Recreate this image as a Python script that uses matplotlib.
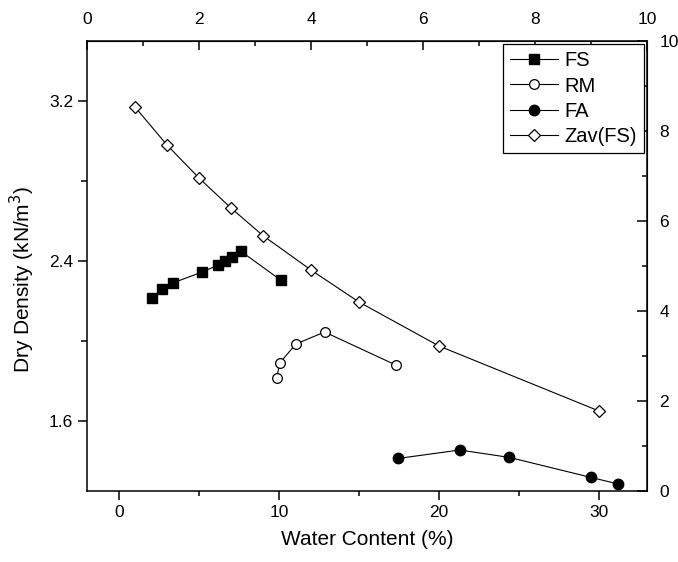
import numpy as np
import matplotlib
matplotlib.use("Agg")
import matplotlib.pyplot as plt

plt.rcParams['font.family'] = ['Liberation Sans', 'DejaVu Sans']

# FS
fs_w = [2.05, 2.7, 3.35, 5.2, 6.2, 6.6, 7.05, 7.6, 10.1]
fs_d = [2.215, 2.26, 2.29, 2.345, 2.38, 2.40, 2.42, 2.45, 2.305]
# RM
rm_w = [9.85, 10.05, 11.05, 12.85, 17.3]
rm_d = [1.815, 1.89, 1.985, 2.045, 1.88]
# FA
fa_w = [17.45, 21.3, 24.4, 29.5, 31.2]
fa_d = [1.413, 1.455, 1.418, 1.318, 1.285]
# Zav(FS)
zav_w = [1, 3, 5, 7, 9, 12, 15, 20, 30]
zav_d = [3.17, 2.98, 2.815, 2.665, 2.527, 2.355, 2.195, 1.975, 1.65]

fig = plt.figure(figsize=(6.78, 5.62), dpi=100)
ax = fig.add_axes([0.1283, 0.1263, 0.8260, 0.8007])

ax.plot(fs_w, fs_d, 'k-', lw=0.8, marker='s', ms=7, mfc='k', mec='k', label='FS')
ax.plot(rm_w, rm_d, 'k-', lw=0.8, marker='o', ms=7, mfc='w', mec='k', mew=0.9, label='RM')
ax.plot(fa_w, fa_d, 'k-', lw=0.8, marker='o', ms=7.5, mfc='k', mec='k', label='FA')
ax.plot(zav_w, zav_d, 'k-', lw=0.8, marker='D', ms=6.3, mfc='w', mec='k', mew=0.9, label='Zav(FS)')

ax.set_xlim(-2, 33)
ax.set_ylim(1.25, 3.5)
ax.set_xticks([0, 10, 20, 30])
ax.set_xticks([5, 15, 25], minor=True)
ax.set_yticks([1.6, 2.4, 3.2])
ax.set_yticks([2.0, 2.8], minor=True)
ax.tick_params(axis='both', which='major', direction='out', length=6.5, width=1.1, labelsize=12.5)
ax.tick_params(axis='both', which='minor', direction='out', length=3.5, width=1.1)
ax.tick_params(axis='y', which='minor', length=4.5)

for s in ax.spines.values():
    s.set_linewidth(1.1)

ax.set_xlabel('Water Content (%)', fontsize=15, labelpad=7)
ax.set_ylabel('Dry Density (kN/m$^3$)', fontsize=15)
ax.yaxis.set_label_coords(-0.09, 0.47)

top = ax.secondary_xaxis('top', functions=(lambda x: (x + 2) / 3.5, lambda t: t * 3.5 - 2))
top.set_xticks([0, 2, 4, 6, 8, 10])
top.set_xticks([1, 3, 5, 7, 9], minor=True)
top.tick_params(which='major', direction='in', length=6.5, width=1.1, labelsize=12.5, pad=10)
top.tick_params(which='minor', direction='in', length=3.5, width=1.1)

right = ax.secondary_yaxis('right', functions=(lambda y: (y - 1.25) / 0.225, lambda v: v * 0.225 + 1.25))
right.set_yticks([0, 2, 4, 6, 8, 10])
right.set_yticks([1, 3, 5, 7, 9], minor=True)
right.tick_params(which='major', direction='in', length=7, width=1.1, labelsize=12.5, pad=9)
right.tick_params(which='minor', direction='in', length=3.5, width=1.1)

leg = ax.legend(loc='upper right', fontsize=14.5, numpoints=1, handlelength=2.4,
                handletextpad=0.3, borderpad=0.35, labelspacing=0.32,
                borderaxespad=0.15, fancybox=False, framealpha=1, edgecolor='k')
leg.get_frame().set_linewidth(0.9)

fig.savefig('out.png', dpi=100)
